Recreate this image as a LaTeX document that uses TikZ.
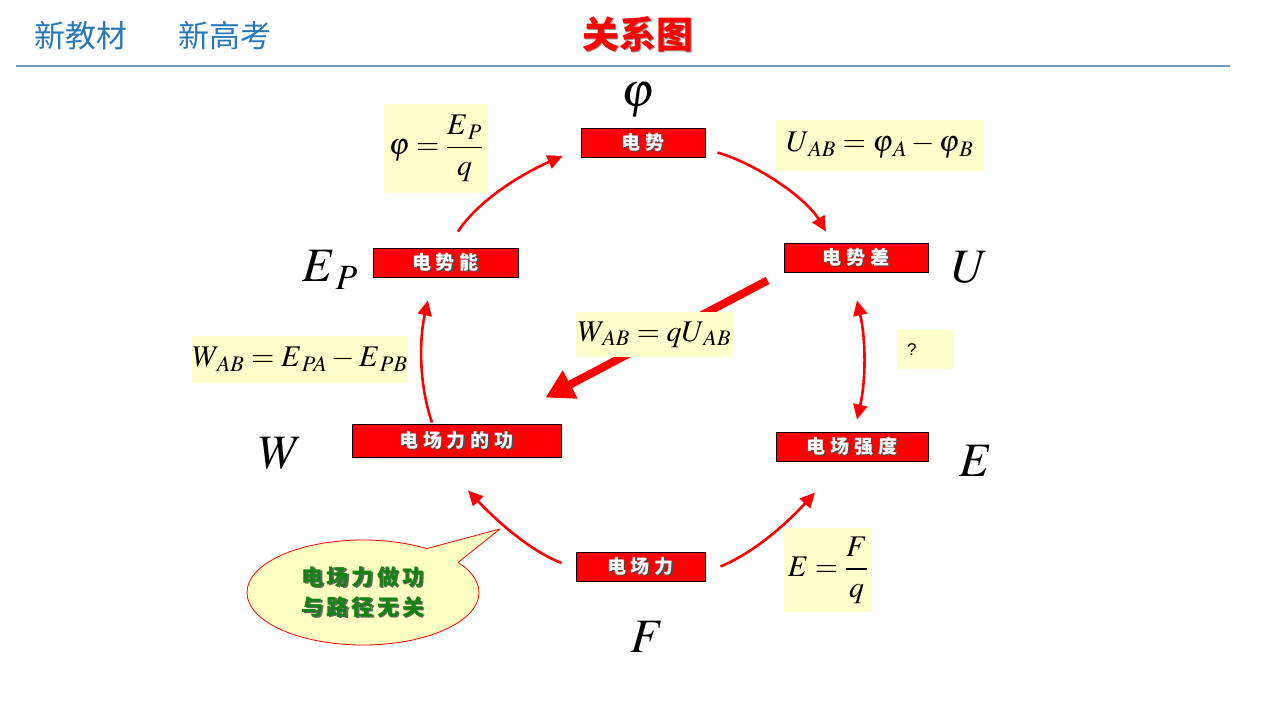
\documentclass[tikz,border=0pt]{standalone}
\usepackage{mathptmx}
\usepackage{amsmath}
\usepackage[no-math]{fontspec}
\usetikzlibrary{arrows.meta,shapes.geometric,calc}
\newfontfamily\cjk{Noto Sans CJK SC}
\newfontfamily\cjkbox[LetterSpace=26]{Noto Sans CJK SC}
\newfontfamily\cjkcall[LetterSpace=14]{Noto Sans CJK SC}
\newfontfamily\qsans{Liberation Sans}
\definecolor{hblue}{RGB}{40,120,184}
\definecolor{lineblue}{RGB}{110,152,188}
\definecolor{yfill}{RGB}{255,255,204}
\definecolor{cfill}{RGB}{255,255,196}
\definecolor{dgreen}{RGB}{20,130,20}
\newcommand\shtxt[2]{\makebox[0pt][l]{\hspace{1.3pt}\raisebox{-1.3pt}{\textcolor{#1}{#2}}}#2}
\tikzset{
  rbox/.style={draw=black, line width=0.9pt, fill=red, text=white, inner sep=0pt,
    font=\cjkbox\bfseries\fontsize{19}{19}\selectfont},
  ybox/.style={fill=yfill, inner sep=0pt, font=\fontsize{30}{30}\selectfont},
  biglab/.style={inner sep=0pt, font=\fontsize{48}{48}\selectfont},
  arr/.style={draw=red, line width=2.6pt, -{Triangle[length=15pt,width=14pt]}},
  darr/.style={draw=red, line width=2.6pt, {Triangle[length=15pt,width=14pt]}-{Triangle[length=15pt,width=14pt]}},
  thickarr/.style={draw=red, line width=8pt, -{Triangle[length=28pt,width=30pt]}},
}
\begin{document}
\begin{tikzpicture}[x=1pt,y=-1pt]
\useasboundingbox (0,0) rectangle (1280,720);
% header
\node[font=\cjk\fontsize{31}{31}\selectfont, text=hblue] (h1) at (81,36) {新教材};
\node[font=\cjk\fontsize{31}{31}\selectfont, text=hblue] (h2) at (225,36) {新高考};
\node[font=\cjk\bfseries\fontsize{37}{37}\selectfont, text=red] (title) at (638,35) {\shtxt{black!40}{关系图}};
\draw[lineblue, line width=1.6pt] (16,66) -- (1230,66);
% red boxes
\node[rbox, minimum width=124, minimum height=29] (ds) at (643,142.5) {\shtxt{black!70}{电势}};
\node[rbox, minimum width=144, minimum height=29] (dsc) at (856,257.5) {\shtxt{black!70}{电势差}};
\node[rbox, minimum width=145, minimum height=29] (epn) at (445.5,262.5) {\shtxt{black!70}{电势能}};
\node[rbox, minimum width=209, minimum height=33] (gong) at (456.5,440.5) {\shtxt{black!70}{电场力的功}};
\node[rbox, minimum width=152, minimum height=29] (qd) at (852,446.5) {\shtxt{black!70}{电场强度}};
\node[rbox, minimum width=129, minimum height=29] (dcl) at (640.5,566.5) {\shtxt{black!70}{电场力}};
% big letters
\node[biglab] (lphi) at (638,100) {$\varphi$};
\node[biglab] (lEP) at (330,270) {$E_{\,P}$};
\node[biglab] (lU) at (970,267) {$U$};
\node[biglab] (lW) at (281,453) {$W$};
\node[biglab] (lE) at (976,461) {$E$};
\node[biglab] (lF) at (647,637) {$F$};
% arrows
\draw[arr] ($(epn.north)+(12.5,-16)$) .. controls (480,198) and (526,172) .. ($(ds.west)+(-18,13.5)$);
\draw[arr] ($(ds.east)+(12,10)$) .. controls (757,164) and (806,198) .. ($(dsc.north)+(-30,-11)$);
\draw[arr] ($(gong.north)+(-24.5,-1)$) .. controls (419,385) and (419,340) .. ($(epn.south)+(-17.5,23)$);
\draw[darr] ($(dsc.south)+(1,28)$) .. controls (866,340) and (866,380) .. ($(qd.north)+(5,-12)$);
\draw[arr] ($(dcl.west)+(-14,-3.5)$) .. controls (528,550) and (494,518) .. ($(gong.south)+(11.5,33)$);
\draw[arr] ($(dcl.east)+(15,0)$) .. controls (756,552) and (790,520) .. ($(qd.south)+(-37,31)$);
\draw[thickarr] ($(dsc.south west)+(-16,8)$) -- ($(gong.north east)+(-16,-26)$);
% formula boxes
\node[ybox, minimum width=104, minimum height=89] (f1) at (436,148.5) {$\varphi=\dfrac{E_{\,P}}{q}$};
\node[ybox, minimum width=208, minimum height=51] (f2) at (880,145.5) {$U_{\,AB}=\varphi_{\,A}-\varphi_{\,B}$};
\node[ybox, minimum width=157, minimum height=45] (f3) at (654.5,334.5) {$W_{\,AB}=qU_{\,AB}$};
\node[ybox, minimum width=216, minimum height=47] (f4) at (300,359.5) {$W_{\,AB}=E_{\,PA}-E_{\,PB}$};
\node[ybox, minimum width=57, minimum height=39, inner xsep=10pt, text width=37pt, align=left, font=\qsans\fontsize{17}{17}\selectfont] (f5) at (925.5,349.5) {?};
\node[ybox, minimum width=88, minimum height=84] (f6) at (828,570) {$E=\dfrac{F}{q}$};
% callout
\node[ellipse, draw=red, line width=0.8pt, fill=cfill, minimum width=232, minimum height=105, inner sep=0pt,
  font=\cjkcall\bfseries\fontsize{22}{30}\selectfont, text=dgreen, align=center] (callout) at (363,592.5)
  {\shtxt{black!60}{电场力做功}\\\shtxt{black!60}{与路径无关}};
\coordinate (tb1) at ($(callout.center)+(64,-44)$);
\coordinate (tb2) at ($(callout.center)+(95,-30)$);
\coordinate (tip) at ($(callout.center)+(137,-63.5)$);
\coordinate (tin) at ($(callout.center)+(70,-25)$);
\fill[cfill] (tb1) -- (tip) -- (tb2) -- (tin) -- cycle;
\draw[red, line width=0.8pt, line join=round] (tb1) -- (tip) -- (tb2);
\end{tikzpicture}
\end{document}
